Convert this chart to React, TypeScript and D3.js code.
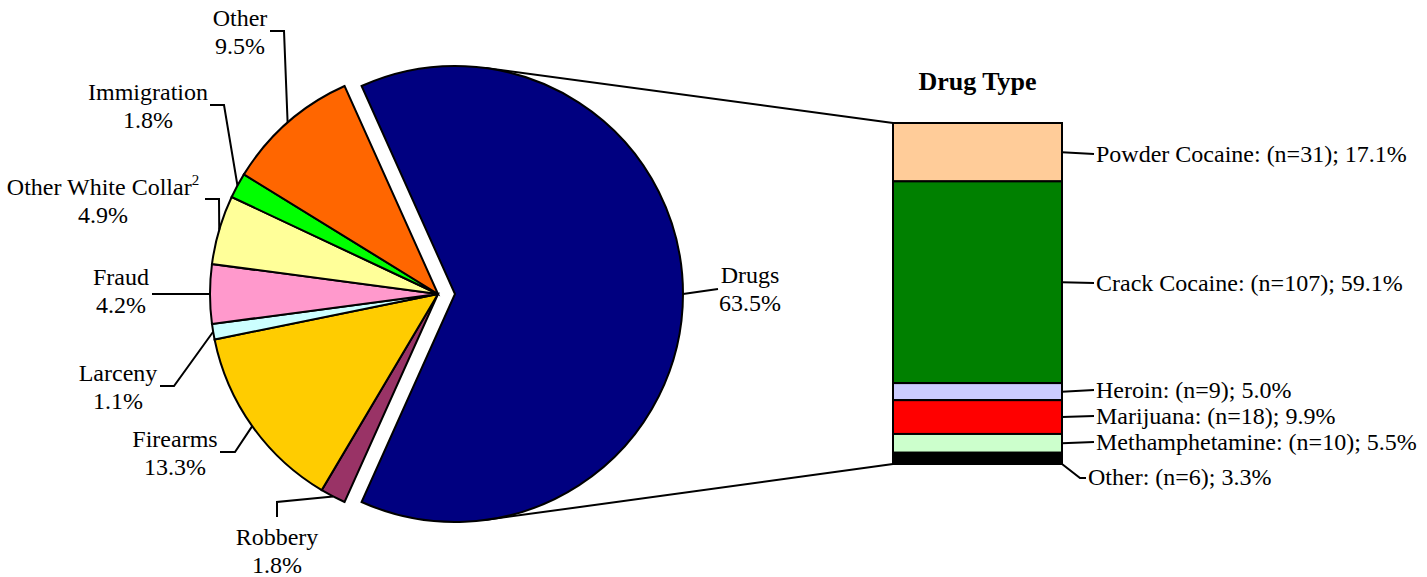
import React from "react";
import * as d3 from "d3";

// ---- data ----
const offenseNames = ["Drugs", "Robbery", "Firearms", "Larceny", "Fraud", "Other White Collar", "Immigration", "Other"];
const offenseValues = [63.5, 1.8, 13.3, 1.1, 4.2, 4.9, 1.8, 9.5];
const offenseColors = ["#000080", "#993366", "#FFCC00", "#CCFFFF", "#FF99CC", "#FFFF99", "#00FF00", "#FF6600"];

const drugNames = ["Powder Cocaine", "Crack Cocaine", "Heroin", "Marijuana", "Methamphetamine", "Other"];
const drugCounts = [31, 107, 9, 18, 10, 6];
const drugPercents = [17.1, 59.1, 5.0, 9.9, 5.5, 3.3];
const drugColors = ["#FFCC99", "#008000", "#CCCCFF", "#FF0000", "#CCFFCC", "#000000"];

// ---- layout ----
const W = 1427, H = 577;
const CX = 438, CY = 294, R = 228, EXPLODE = 17;
const BAR_X0 = 893, BAR_X1 = 1062, BAR_Y0 = 123, BAR_Y1 = 464;
const FONT = "Liberation Serif";
const FS = 24;
const LH = 28;

const pieLabelLayout: Record<string, { tx: number; ty: number; elbow: [number, number][] }> = {
  Drugs: { tx: 750, ty: 283, elbow: [[718, 289]] },
  Robbery: { tx: 277, ty: 545, elbow: [[277, 517], [277, 502]] },
  Firearms: { tx: 175, ty: 447, elbow: [[220, 452], [235, 452]] },
  Larceny: { tx: 118, ty: 381, elbow: [[160, 386], [174, 386]] },
  Fraud: { tx: 121, ty: 285, elbow: [[152, 294], [166, 294]] },
  "Other White Collar": { tx: 103, ty: 195, elbow: [[205, 199], [219, 199]] },
  Immigration: { tx: 148, ty: 100, elbow: [[210, 105], [224, 105]] },
  Other: { tx: 240, ty: 26, elbow: [[270, 31], [284, 31]] },
};

const barLabelY = [162, 291, 398, 424, 450, 485];

const textStyle: React.CSSProperties = { fontFamily: FONT };

export default function App() {
  const total = d3.sum(offenseValues);
  const drugFrac = offenseValues[0] / total;
  const start = Math.PI / 2 - drugFrac * Math.PI;
  const pie = d3.pie<number>().sort(null).value((d) => d).startAngle(start).endAngle(start + 2 * Math.PI);
  const arcs = pie(offenseValues);
  const arcGen = d3.arc<d3.PieArcDatum<number>>().innerRadius(0).outerRadius(R);

  const dMid = (arcs[0].startAngle + arcs[0].endAngle) / 2;
  const dx = Math.sin(dMid) * EXPLODE;
  const dy = -Math.cos(dMid) * EXPLODE;
  const dcx = CX + dx, dcy = CY + dy;

  const drugTotal = d3.sum(drugPercents);
  const yScale = d3.scaleLinear().domain([0, drugTotal]).range([BAR_Y0, BAR_Y1]);
  const cum = d3.cumsum(drugPercents);
  const segs = drugPercents.map((v, i) => ({ y0: yScale(cum[i] - v), y1: yScale(cum[i]) }));

  const tangent = (px: number, py: number, sign: number): [number, number] => {
    const ddx = px - dcx, ddy = py - dcy;
    const d = Math.hypot(ddx, ddy);
    const th = Math.atan2(ddy, ddx);
    const a = Math.acos(R / d);
    const ang = th + sign * a;
    return [dcx + R * Math.cos(ang), dcy + R * Math.sin(ang)];
  };
  const tTop = tangent(BAR_X0, BAR_Y0, -1);
  const tBot = tangent(BAR_X0, BAR_Y1, 1);

  const line = d3.line();

  return (
    <svg width={W} height={H} style={{ position: "absolute", left: 0, top: 0, background: "#fff" }}>
      <rect x={0} y={0} width={W} height={H} fill="#fff" />
      <path d={line([tTop, [BAR_X0, BAR_Y0]]) || ""} stroke="#000" strokeWidth={2} fill="none" />
      <path d={line([tBot, [BAR_X0, BAR_Y1]]) || ""} stroke="#000" strokeWidth={2} fill="none" />

      {arcs.map((a, i) => {
        const ox = i === 0 ? dx : 0;
        const oy = i === 0 ? dy : 0;
        return (
          <path
            key={i}
            d={arcGen(a) || ""}
            transform={`translate(${CX + ox},${CY + oy})`}
            fill={offenseColors[i]}
            stroke="#000"
            strokeWidth={2}
          />
        );
      })}

      {arcs.map((a, i) => {
        const name = offenseNames[i];
        const lay = pieLabelLayout[name];
        const mid = (a.startAngle + a.endAngle) / 2;
        const ox = i === 0 ? dx : 0;
        const oy = i === 0 ? dy : 0;
        const anchor: [number, number] = [CX + ox + Math.sin(mid) * R, CY + oy - Math.cos(mid) * R];
        const pts: [number, number][] = [...lay.elbow, anchor];
        return (
          <g key={name}>
            <path d={line(pts) || ""} stroke="#000" strokeWidth={2} fill="none" />
            <text x={lay.tx} y={lay.ty} textAnchor="middle" fontSize={FS} fill="#000" style={textStyle}>
              {name}
              {name === "Other White Collar" ? (
                <tspan fontSize={15} dy={-10}>2</tspan>
              ) : null}
            </text>
            <text x={lay.tx} y={lay.ty + LH} textAnchor="middle" fontSize={FS} fill="#000" style={textStyle}>
              {offenseValues[i].toFixed(1)}%
            </text>
          </g>
        );
      })}

      {segs.map((s, i) => (
        <rect
          key={i}
          x={BAR_X0}
          y={s.y0}
          width={BAR_X1 - BAR_X0}
          height={s.y1 - s.y0}
          fill={drugColors[i]}
          stroke="#000"
          strokeWidth={2}
        />
      ))}

      {segs.map((s, i) => {
        const midY = (s.y0 + s.y1) / 2;
        const ly = barLabelY[i];
        const isLast = i === segs.length - 1;
        const pts: [number, number][] = isLast
          ? [[BAR_X1, s.y1], [1080, ly - 7], [1086, ly - 7]]
          : [[BAR_X1, midY], [1094, ly - 8]];
        return (
          <g key={drugNames[i]}>
            <path d={line(pts) || ""} stroke="#000" strokeWidth={2} fill="none" />
            <text x={isLast ? 1088 : 1096} y={ly} fontSize={FS} fill="#000" style={textStyle}>
              {`${drugNames[i]}: (n=${drugCounts[i]}); ${drugPercents[i].toFixed(1)}%`}
            </text>
          </g>
        );
      })}

      <text x={(BAR_X0 + BAR_X1) / 2} y={90} textAnchor="middle" fontSize={26} fontWeight="bold" fill="#000" style={textStyle}>
        Drug Type
      </text>
    </svg>
  );
}
